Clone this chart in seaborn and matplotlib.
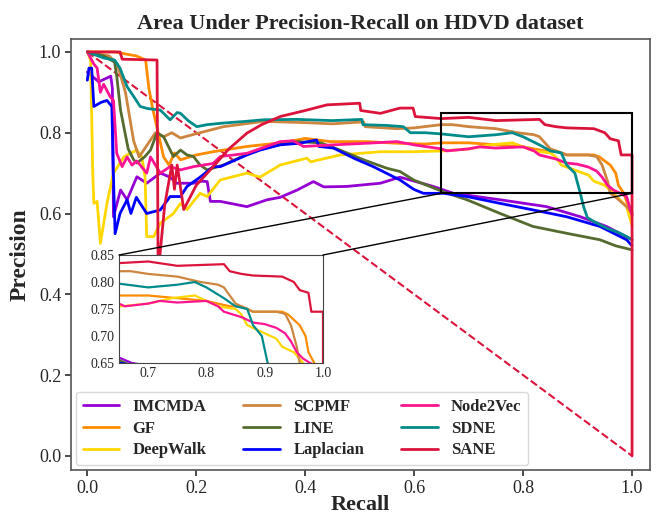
import matplotlib
matplotlib.use("Agg")
import matplotlib.pyplot as plt
import seaborn as sns
import pandas as pd
from matplotlib.patches import Rectangle, ConnectionPatch

methods = ["IMCMDA", "GF", "DeepWalk", "SCPMF", "LINE", "Laplacian", "Node2Vec", "SDNE", "SANE"]
colors = ["#9400D3", "#FF8C00", "#FFD700", "#CD853F", "#556B2F", "#0000FF", "#FF1493", "#008B8B", "#DC143C"]

r_IMCMDA = [0.0, 0.021, 0.043, 0.046, 0.048, 0.061, 0.073, 0.091, 0.109, 0.134, 0.152, 0.164, 0.195, 0.21, 0.22, 0.226, 0.244, 0.293, 0.33, 0.354, 0.385, 0.415, 0.434, 0.476, 0.538, 0.574, 0.635, 0.672, 0.758, 0.843, 0.905, 0.953, 1.0]
p_IMCMDA = [0.95, 0.926, 0.94, 0.91, 0.592, 0.658, 0.634, 0.691, 0.675, 0.70, 0.69, 0.675, 0.675, 0.68, 0.679, 0.63, 0.63, 0.617, 0.634, 0.64, 0.658, 0.679, 0.666, 0.667, 0.675, 0.69, 0.667, 0.65, 0.634, 0.617, 0.592, 0.568, 0.535]

r_GF = [0.0, 0.05, 0.09, 0.107, 0.113, 0.12, 0.13, 0.14, 0.15, 0.16, 0.171, 0.2, 0.231, 0.293, 0.354, 0.385, 0.40, 0.446, 0.513, 0.568, 0.62, 0.65, 0.70, 0.75, 0.80, 0.82, 0.84, 0.86, 0.88, 0.93, 0.94, 0.95, 0.96, 0.97, 0.975, 0.985, 0.99, 1.0]
p_GF = [1.0, 1.0, 0.99, 0.98, 0.91, 0.86, 0.80, 0.74, 0.72, 0.75, 0.733, 0.745, 0.753, 0.766, 0.775, 0.782, 0.786, 0.778, 0.778, 0.774, 0.772, 0.775, 0.775, 0.77, 0.765, 0.76, 0.755, 0.755, 0.745, 0.745, 0.74, 0.73, 0.72, 0.70, 0.67, 0.65, 0.63, 0.60]

r_DeepWalk = [0.0, 0.006, 0.01, 0.012, 0.018, 0.024, 0.036, 0.048, 0.067, 0.08, 0.091, 0.1, 0.106, 0.109, 0.122, 0.134, 0.158, 0.171, 0.183, 0.207, 0.22, 0.244, 0.293, 0.317, 0.354, 0.403, 0.41, 0.464, 0.538, 0.599, 0.653, 0.70, 0.74, 0.78, 0.80, 0.82, 0.85, 0.86, 0.87, 0.89, 0.91, 0.92, 0.93, 0.95, 0.966, 0.99, 1.0]
p_DeepWalk = [1.0, 0.98, 0.70, 0.625, 0.63, 0.526, 0.625, 0.70, 0.74, 0.75, 0.757, 0.74, 0.691, 0.543, 0.543, 0.576, 0.60, 0.625, 0.61, 0.65, 0.642, 0.683, 0.70, 0.69, 0.72, 0.737, 0.728, 0.745, 0.753, 0.753, 0.755, 0.76, 0.77, 0.775, 0.765, 0.755, 0.75, 0.74, 0.72, 0.71, 0.70, 0.695, 0.68, 0.67, 0.65, 0.617, 0.57]

r_SCPMF = [0.0, 0.04, 0.055, 0.07, 0.085, 0.095, 0.11, 0.125, 0.14, 0.155, 0.171, 0.201, 0.25, 0.323, 0.40, 0.45, 0.507, 0.51, 0.568, 0.60, 0.65, 0.67, 0.70, 0.75, 0.79, 0.82, 0.83, 0.84, 0.85, 0.86, 0.88, 0.92, 0.935, 0.945, 0.95, 0.955, 0.96, 0.966, 0.99, 1.0]
p_SCPMF = [1.0, 0.99, 0.97, 0.90, 0.78, 0.74, 0.77, 0.80, 0.79, 0.80, 0.787, 0.798, 0.815, 0.828, 0.825, 0.822, 0.827, 0.815, 0.81, 0.812, 0.82, 0.82, 0.815, 0.81, 0.80, 0.795, 0.79, 0.775, 0.76, 0.755, 0.745, 0.745, 0.741, 0.72, 0.70, 0.68, 0.65, 0.645, 0.617, 0.60]

r_LINE = [0.0, 0.03, 0.05, 0.054, 0.061, 0.075, 0.085, 0.091, 0.105, 0.116, 0.128, 0.14, 0.158, 0.171, 0.183, 0.195, 0.207, 0.22, 0.25, 0.29, 0.33, 0.385, 0.428, 0.464, 0.507, 0.55, 0.574, 0.599, 0.653, 0.697, 0.758, 0.818, 0.88, 0.941, 0.97, 1.0]
p_LINE = [1.0, 0.99, 0.975, 0.94, 0.856, 0.76, 0.733, 0.725, 0.74, 0.757, 0.80, 0.79, 0.741, 0.757, 0.745, 0.741, 0.72, 0.708, 0.72, 0.745, 0.765, 0.778, 0.775, 0.757, 0.733, 0.712, 0.704, 0.683, 0.654, 0.634, 0.60, 0.568, 0.551, 0.535, 0.52, 0.51]

r_Laplacian = [0.0, 0.003, 0.008, 0.012, 0.025, 0.036, 0.045, 0.048, 0.051, 0.06, 0.073, 0.08, 0.09, 0.109, 0.134, 0.152, 0.171, 0.183, 0.207, 0.231, 0.244, 0.293, 0.317, 0.354, 0.39, 0.421, 0.425, 0.452, 0.489, 0.525, 0.562, 0.574, 0.599, 0.617, 0.654, 0.697, 0.758, 0.818, 0.88, 0.941, 0.99, 1.0]
p_Laplacian = [0.93, 0.96, 0.96, 0.865, 0.875, 0.88, 0.865, 0.69, 0.55, 0.60, 0.634, 0.60, 0.64, 0.60, 0.609, 0.642, 0.642, 0.667, 0.69, 0.716, 0.716, 0.745, 0.757, 0.77, 0.774, 0.782, 0.766, 0.762, 0.737, 0.716, 0.691, 0.683, 0.66, 0.65, 0.65, 0.642, 0.625, 0.609, 0.592, 0.568, 0.535, 0.52]

r_Node2Vec = [0.0, 0.012, 0.018, 0.024, 0.03, 0.042, 0.048, 0.054, 0.064, 0.073, 0.082, 0.091, 0.109, 0.116, 0.134, 0.152, 0.171, 0.195, 0.231, 0.244, 0.293, 0.354, 0.378, 0.397, 0.452, 0.513, 0.568, 0.60, 0.65, 0.66, 0.70, 0.72, 0.75, 0.80, 0.82, 0.83, 0.86, 0.88, 0.90, 0.92, 0.935, 0.945, 0.955, 0.966, 0.99, 1.0]
p_Node2Vec = [1.0, 0.97, 0.96, 0.90, 0.92, 0.889, 0.88, 0.749, 0.716, 0.74, 0.72, 0.73, 0.70, 0.74, 0.70, 0.716, 0.708, 0.716, 0.724, 0.741, 0.749, 0.778, 0.78, 0.766, 0.77, 0.774, 0.778, 0.77, 0.76, 0.755, 0.76, 0.765, 0.762, 0.765, 0.755, 0.745, 0.735, 0.725, 0.722, 0.715, 0.705, 0.69, 0.67, 0.658, 0.642, 0.595]

r_SDNE = [0.0, 0.03, 0.05, 0.06, 0.073, 0.085, 0.097, 0.11, 0.134, 0.152, 0.165, 0.171, 0.185, 0.201, 0.22, 0.25, 0.29, 0.323, 0.385, 0.45, 0.504, 0.506, 0.55, 0.58, 0.593, 0.62, 0.65, 0.70, 0.75, 0.78, 0.80, 0.83, 0.85, 0.87, 0.88, 0.895, 0.905, 0.911, 0.918, 0.93, 0.953, 0.975, 0.99, 1.0]
p_SDNE = [1.0, 0.985, 0.98, 0.96, 0.914, 0.89, 0.865, 0.86, 0.856, 0.832, 0.85, 0.848, 0.83, 0.815, 0.82, 0.824, 0.828, 0.832, 0.833, 0.830, 0.833, 0.82, 0.818, 0.815, 0.80, 0.80, 0.797, 0.79, 0.795, 0.80, 0.79, 0.77, 0.755, 0.75, 0.72, 0.70, 0.65, 0.617, 0.59, 0.58, 0.564, 0.553, 0.543, 0.535]

r_SANE = [0.0, 0.06, 0.064, 0.128, 0.13, 0.142, 0.155, 0.16, 0.165, 0.177, 0.20, 0.231, 0.26, 0.293, 0.32, 0.354, 0.40, 0.44, 0.50, 0.502, 0.538, 0.574, 0.598, 0.602, 0.65, 0.70, 0.75, 0.83, 0.84, 0.86, 0.88, 0.93, 0.95, 0.96, 0.975, 0.98, 1.0, 1.0]
p_SANE = [1.0, 1.0, 0.982, 0.98, 0.45, 0.62, 0.72, 0.66, 0.72, 0.61, 0.67, 0.716, 0.76, 0.799, 0.82, 0.84, 0.855, 0.869, 0.873, 0.855, 0.848, 0.861, 0.861, 0.84, 0.835, 0.838, 0.83, 0.833, 0.82, 0.815, 0.812, 0.81, 0.80, 0.785, 0.78, 0.745, 0.745, 0.0]

baseline_r = [0.0, 1.0]
baseline_p = [1.0, 0.0]

series = {
    "IMCMDA": (r_IMCMDA, p_IMCMDA), "GF": (r_GF, p_GF), "DeepWalk": (r_DeepWalk, p_DeepWalk),
    "SCPMF": (r_SCPMF, p_SCPMF), "LINE": (r_LINE, p_LINE), "Laplacian": (r_Laplacian, p_Laplacian),
    "Node2Vec": (r_Node2Vec, p_Node2Vec), "SDNE": (r_SDNE, p_SDNE), "SANE": (r_SANE, p_SANE),
}
rows = []
for m in methods:
    rr, pp = series[m]
    for i, (a, b) in enumerate(zip(rr, pp)):
        rows.append({"Method": m, "Recall": a, "Precision": b, "idx": i})
df = pd.DataFrame(rows)

sns.set_theme(style="white")
plt.rcParams["font.family"] = ["Liberation Serif", "DejaVu Serif"]

fig = plt.figure(figsize=(6.56, 5.16), dpi=100)
ax = fig.add_axes([0.1082, 0.0891, 0.8827, 0.8353])
palette = dict(zip(methods, colors))

ax.plot(baseline_r, baseline_p, linestyle="--", color="#DC143C", linewidth=1.5, zorder=1)
sns.lineplot(data=df, x="Recall", y="Precision", hue="Method", hue_order=methods,
             palette=palette, sort=False, estimator=None, units="Method", linewidth=2, ax=ax)

ax.set_xlim(-0.03, 1.033)
ax.set_ylim(-0.035, 1.032)
ax.set_xticks([0, 0.2, 0.4, 0.6, 0.8, 1.0])
ax.set_yticks([0, 0.2, 0.4, 0.6, 0.8, 1.0])
ax.tick_params(axis="both", labelsize=13, length=4, color="#333333", direction="out",
               bottom=True, left=True, pad=3)
for s in ax.spines.values():
    s.set_color("#555555")
    s.set_linewidth(1.2)
ax.set_xlabel("Recall", fontsize=16, fontweight="bold", labelpad=-1)
ax.set_ylabel("Precision", fontsize=17, fontweight="bold", labelpad=6)
ax.set_title("Area Under Precision-Recall on HDVD dataset", fontsize=16, fontweight="bold", pad=7)

rect = Rectangle((0.65, 0.65), 0.35, 0.2, fill=False, edgecolor="black", linewidth=1.5, zorder=5)
ax.add_patch(rect)

leg = ax.legend(loc="lower left", ncol=3, prop={"weight": "bold", "size": 12},
                handlelength=2.2, columnspacing=2.2, labelspacing=0.35, frameon=True,
                borderaxespad=0.3)
leg.get_frame().set_edgecolor("#d0d0d0")
for line in leg.get_lines():
    line.set_linewidth(2)

axins = fig.add_axes([0.1814, 0.2965, 0.311, 0.2093])
sns.lineplot(data=df, x="Recall", y="Precision", hue="Method", hue_order=methods,
             palette=palette, sort=False, estimator=None, units="Method", linewidth=1.6,
             ax=axins, legend=False)
axins.set_xlim(0.65, 1.0)
axins.set_ylim(0.65, 0.85)
axins.set_xticks([0.7, 0.8, 0.9, 1.0])
axins.set_yticks([0.65, 0.70, 0.75, 0.80, 0.85])
axins.set_yticklabels(["0.65", "0.70", "0.75", "0.80", "0.85"])
axins.set_xticklabels(["0.7", "0.8", "0.9", "1.0"])
axins.tick_params(labelsize=10, length=0, pad=3)
axins.set_xlabel("")
axins.set_ylabel("")
for s in axins.spines.values():
    s.set_color("#444444")
    s.set_linewidth(0.8)

for xa, xb in [((0.65, 0.65), (0, 1)), ((1.0, 0.65), (1, 1))]:
    cp = ConnectionPatch(xyA=xa, coordsA=ax.transData, xyB=xb, coordsB=axins.transAxes,
                         color="black", linewidth=1.0)
    fig.add_artist(cp)

fig.savefig("out.png", dpi=100)
